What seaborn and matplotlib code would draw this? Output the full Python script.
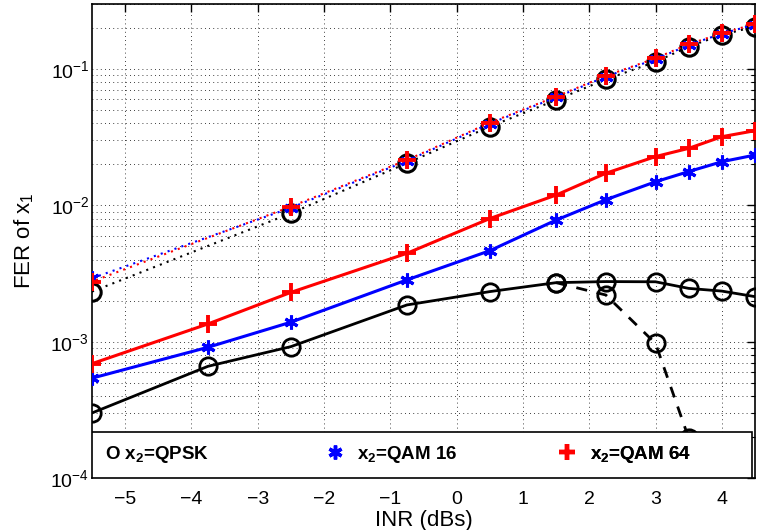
import numpy as np
import pandas as pd
import matplotlib
matplotlib.use("Agg")
import matplotlib.pyplot as plt
import seaborn as sns
from matplotlib.lines import Line2D
from matplotlib.patches import Rectangle

# ---------------- data ----------------
inr = [-5.5, -3.75, -2.5, -0.75, 0.5, 1.5, 2.25, 3.0, 3.5, 4.0, 4.5]
qpsk_solid = [3.0e-4, 6.6e-4, 9.2e-4, 1.86e-3, 2.33e-3, 2.71e-3, 2.76e-3, 2.75e-3, 2.46e-3, 2.35e-3, 2.14e-3]
qam16_solid = [5.4e-4, 9.1e-4, 1.39e-3, 2.84e-3, 4.65e-3, 7.8e-3, 1.1e-2, 1.49e-2, 1.77e-2, 2.09e-2, 2.34e-2]
qam64_solid = [6.9e-4, 1.35e-3, 2.3e-3, 4.45e-3, 8.0e-3, 1.19e-2, 1.72e-2, 2.28e-2, 2.62e-2, 3.19e-2, 3.53e-2]

inr_dash = [1.5, 2.25, 3.0, 3.5]
qpsk_dash = [2.71e-3, 2.2e-3, 9.7e-4, 1.96e-4]

inr_dot = [-5.5, -2.5, -0.75, 0.5, 1.5, 2.25, 3.0, 3.5, 4.0, 4.5]
qpsk_dot = [2.33e-3, 8.75e-3, 2.04e-2, 3.78e-2, 5.93e-2, 8.4e-2, 0.113, 0.146, 0.178, 0.205]
qam16_dot = [2.92e-3, 9.6e-3, 2.12e-2, 3.98e-2, 6.2e-2, 8.8e-2, 0.118, 0.150, 0.182, 0.212]
qam64_dot = [2.76e-3, 9.8e-3, 2.15e-2, 4.04e-2, 6.28e-2, 8.9e-2, 0.120, 0.152, 0.183, 0.214]

xticks = [-5, -4, -3, -2, -1, 0, 1, 2, 3, 4]
legend_labels = [r"O x$_\mathbf{2}$=QPSK", r"x$_\mathbf{2}$=QAM 16", r"x$_\mathbf{2}$=QAM 64"]

# ---------------- style ----------------
sns.set_theme(style="white")
plt.rcParams["font.family"] = ["Liberation Sans", "DejaVu Sans"]
plt.rcParams["mathtext.fontset"] = "custom"
plt.rcParams["mathtext.rm"] = "Liberation Sans"
plt.rcParams["mathtext.it"] = "Liberation Sans:italic"
plt.rcParams["mathtext.bf"] = "Liberation Sans:bold"
for k in ["text.color", "axes.labelcolor", "xtick.color", "ytick.color", "axes.edgecolor"]:
    plt.rcParams[k] = "black"

fig = plt.figure(figsize=(7.63, 5.30), dpi=100)
ax = fig.add_axes([92 / 763, 52 / 530, 663 / 763, 474 / 530])
ax.set_facecolor("white")

star = (6, 2, 0)

def draw(x, y, color, ls, marker, ms, mew, lw, z):
    sns.lineplot(x=x, y=y, ax=ax, color=color, linestyle=ls, linewidth=lw,
                 marker=marker, markersize=ms, markeredgewidth=mew,
                 markeredgecolor=color, markerfacecolor="none",
                 sort=False, errorbar=None, zorder=z, legend=False)

# dotted group
draw(inr_dot, qpsk_dot, "black", (0, (1, 2.5)), "o", 12.5, 2.2, 1.5, 3)
draw(inr_dot, qam16_dot, "blue", (0, (1, 2.5)), star, 10, 2.2, 1.5, 3.1)
draw(inr_dot, qam64_dot, "red", (1.5, (1, 2.5)), "+", 13, 2.8, 1.5, 3.2)

# dashed
draw(inr_dash, qpsk_dash, "black", (0, (4, 3.5)), "o", 12.5, 2.0, 2.0, 2.9)

# solid group
draw(inr, qpsk_solid, "black", "-", "o", 12.5, 2.0, 2.0, 3)
draw(inr, qam16_solid, "blue", "-", star, 10, 2.2, 2.2, 3.1)
draw(inr, qam64_solid, "red", "-", "+", 13, 2.8, 2.2, 3.2)

ax.set_yscale("log")
ax.set_xlim(-5.5, 4.5)
ax.set_ylim(1e-4, 0.3)
ax.set_xticks(xticks)
ax.set_xticklabels([("\u2212" + str(-t)) if t < 0 else str(t) for t in xticks])
ax.minorticks_on()
ax.xaxis.set_minor_locator(matplotlib.ticker.NullLocator())

ax.grid(True, which="major", linestyle=(0, (1, 4)), color="black", linewidth=0.6)
ax.grid(True, which="minor", axis="y", linestyle=(0, (1, 4)), color="black", linewidth=0.6)
ax.set_axisbelow(True)

ax.tick_params(which="both", direction="in", top=True, right=True, labelsize=14, colors="black")
ax.tick_params(which="major", length=6, width=1)
ax.tick_params(which="minor", length=3, width=0.8)
ax.tick_params(axis="x", which="major", pad=9)
ax.tick_params(axis="y", which="major", pad=2)
for s in ax.spines.values():
    s.set_color("black")
    s.set_linewidth(1.2)

ax.set_xlabel("INR (dBs)", fontsize=16, labelpad=2)
ax.set_ylabel(r"FER of x$_1$", fontsize=16, labelpad=10)

# legend box
ax.add_patch(Rectangle((0.0, 0.0), 0.9955, 0.097, transform=ax.transAxes,
                       facecolor="white", edgecolor="black", linewidth=1.2, zorder=5))

font = {"weight": "bold", "size": 13.5}
handles = [
    Line2D([], [], ls="none", marker=None, color="black"),
    Line2D([], [], ls="none", marker=star, color="blue", markersize=10, markeredgewidth=2.5),
    Line2D([], [], ls="none", marker="+", color="red", markersize=12, markeredgewidth=3.2),
]
xpos = [0.019, 0.352, 0.703]
hl = [0.0, 1.0, 1.0]
pads = [0.0, 0.7, 0.7]
for h, lab, xa, l, p in zip(handles, legend_labels, xpos, hl, pads):
    lg = ax.legend(handles=[h], labels=[lab], loc="center left",
                   bbox_to_anchor=(xa, 0.05), bbox_transform=ax.transAxes,
                   frameon=False, borderpad=0, borderaxespad=0,
                   handlelength=l, handletextpad=p, prop=font)
    lg.set_zorder(6)
    ax.add_artist(lg)

fig.savefig("out.png", dpi=100)
